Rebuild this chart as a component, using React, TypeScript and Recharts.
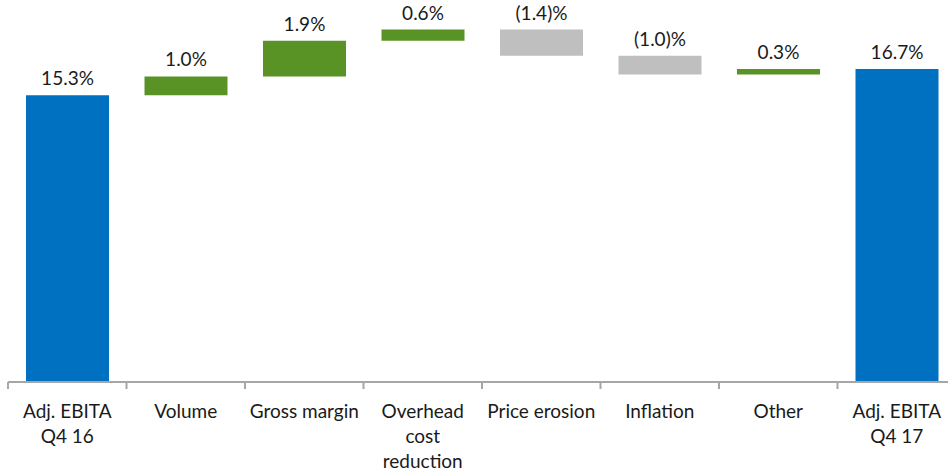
import React from "react"
import { BarChart, Bar, XAxis, YAxis, LabelList, Cell } from "recharts"

const categories = [
  "Adj. EBITA\nQ4 16",
  "Volume",
  "Gross margin",
  "Overhead\ncost\nreduction",
  "Price erosion",
  "Inflation",
  "Other",
  "Adj. EBITA\nQ4 17",
]
// change in margin (pp); first and last are totals
const values = [15.3, 1.0, 1.9, 0.6, -1.4, -1.0, 0.3, 16.7]
const isTotal = [true, false, false, false, false, false, false, true]

const BLUE = "#0070C0"
const GREEN = "#5A9325"
const GREY = "#BFBFBF"
const FONT = "Lato, 'Open Sans', sans-serif"

const CHART_W = 964
const MARGIN_L = 8
const MARGIN_R = 8
const BAND = (CHART_W - MARGIN_L - MARGIN_R) / categories.length

// running total -> invisible base + visible step
let running = 0
const data = categories.map((name, i) => {
  const v = values[i]
  let base: number
  if (isTotal[i]) {
    base = 0
    running = v
  } else if (v >= 0) {
    base = running
    running += v
  } else {
    running += v
    base = running
  }
  return { name, base, step: Math.abs(v), value: v, total: isTotal[i] }
})

const fmt = (v: number) => (v < 0 ? `(${Math.abs(v).toFixed(1)})%` : `${v.toFixed(1)}%`)

function ValueLabel(props: any) {
  const { x, y, width, index } = props
  return (
    <text
      x={x + width / 2}
      y={y - 10}
      textAnchor="middle"
      fill="#1a1a1a"
      fontFamily={FONT}
      fontSize={19}
    >
      {fmt(values[index])}
    </text>
  )
}

function CategoryTick(props: any) {
  const { x, y, payload } = props
  const lines = String(payload.value).split("\n")
  const left = x - BAND / 2
  return (
    <g>
      <line x1={left} y1={y} x2={left} y2={y + 7} stroke="#A6A6A6" strokeWidth={2} />
      <text x={x} y={y + 36} textAnchor="middle" fill="#1a1a1a" fontFamily={FONT} fontSize={19}>
        {lines.map((l, i) => (
          <tspan key={i} x={x} dy={i === 0 ? 0 : 25}>
            {l}
          </tspan>
        ))}
      </text>
    </g>
  )
}

export default function App() {
  return (
    <div style={{ position: "absolute", left: 0, top: 0, width: 948, height: 472, overflow: "hidden", background: "#fff" }}>
      <BarChart
        width={CHART_W}
        height={472}
        data={data}
        margin={{ top: 7, right: MARGIN_R, bottom: 0, left: MARGIN_L }}
        barSize={83}
      >
        <XAxis
          dataKey="name"
          interval={0}
          height={90}
          tickSize={0}
          tickMargin={0}
          axisLine={{ stroke: "#A6A6A6", strokeWidth: 2 }}
          tickLine={false}
          tick={<CategoryTick />}
        />
        <YAxis hide domain={[0, 20]} />
        <Bar dataKey="base" stackId="w" fill="transparent" isAnimationActive={false} />
        <Bar dataKey="step" stackId="w" isAnimationActive={false}>
          {data.map((d, i) => (
            <Cell key={i} fill={d.total ? BLUE : d.value >= 0 ? GREEN : GREY} />
          ))}
          <LabelList dataKey="step" content={<ValueLabel />} />
        </Bar>
      </BarChart>
    </div>
  )
}
